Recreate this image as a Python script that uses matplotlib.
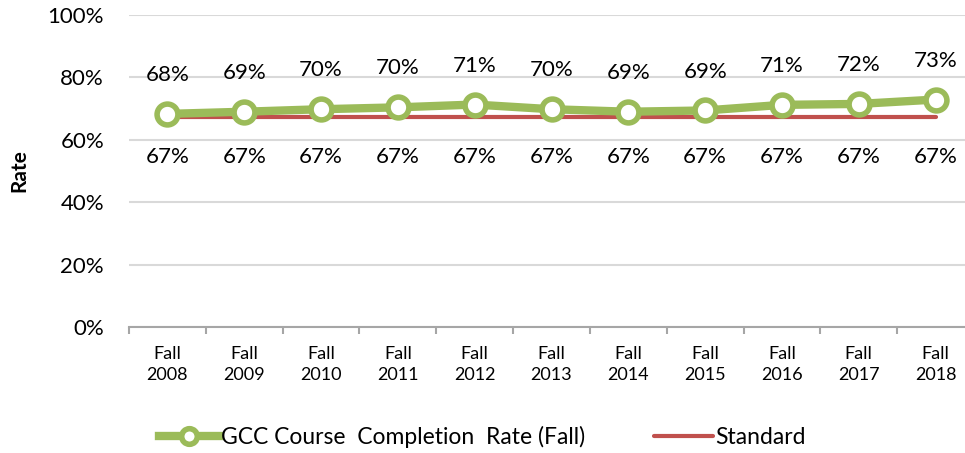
import matplotlib.pyplot as plt
import numpy as np
from matplotlib.ticker import PercentFormatter

years = ["Fall\n2008", "Fall\n2009", "Fall\n2010", "Fall\n2011", "Fall\n2012", "Fall\n2013",
         "Fall\n2014", "Fall\n2015", "Fall\n2016", "Fall\n2017", "Fall\n2018"]
completion = [68.3, 69.0, 69.8, 70.4, 71.3, 69.8, 69.0, 69.4, 71.2, 71.5, 72.9]
completion_labels = ["68%", "69%", "70%", "70%", "71%", "70%", "69%", "69%", "71%", "72%", "73%"]
standard = [67.3] * 11
standard_labels = ["67%"] * 11

green = "#9BBB59"
red = "#C0504D"

plt.rcParams['font.family'] = ['Lato', 'DejaVu Sans']

fig = plt.figure(figsize=(9.65, 4.53), dpi=100)
ax = fig.add_axes([129/965, 1-327/453, 845/965, 312/453])

x = np.arange(len(years))
ax.plot(x, completion, '-o', color=green, lw=6, ms=15, mfc='white', mec=green, mew=4,
        label="GCC Course  Completion  Rate (Fall)", zorder=3)
ax.plot(x, standard, '-', color=red, lw=3, solid_capstyle='round',
        label="Standard", zorder=2)

for xi, v, t in zip(x, completion, completion_labels):
    ax.annotate(t, (xi, v), xytext=(0, 28), textcoords='offset points',
                ha='center', va='center', fontsize=16)
for xi, v, t in zip(x, standard, standard_labels):
    ax.annotate(t, (xi, v), xytext=(0, -29), textcoords='offset points',
                ha='center', va='center', fontsize=16)

ax.set_ylim(0, 100)
ax.set_xlim(-0.5, 10.5)
ax.set_yticks(range(0, 101, 20))
ax.yaxis.set_major_formatter(PercentFormatter(decimals=0))
ax.set_xticks(x)
ax.set_xticklabels(years, fontsize=13, linespacing=1.35)
ax.set_xticks(np.arange(-0.5, 11, 1), minor=True)
ax.tick_params(axis='x', which='major', length=0, pad=14)
ax.tick_params(axis='x', which='minor', length=5, color='#a6a6a6', width=1.5)
ax.tick_params(axis='y', length=0, labelsize=16, pad=18)
ax.grid(axis='y', color='#d9d9d9', lw=1.5)
ax.set_axisbelow(True)
for s in ['top', 'right', 'left']:
    ax.spines[s].set_visible(False)
ax.spines['bottom'].set_color('#a6a6a6')
ax.spines['bottom'].set_linewidth(1.5)
ax.set_ylabel("Rate", fontsize=15, fontweight='bold', labelpad=13)

leg = ax.legend(loc='center', ncol=2, frameon=False, fontsize=16.5, handlelength=2.6,
                handletextpad=0.1, columnspacing=3.0, markerscale=0.75)
leg.set_bbox_to_anchor((0.5, 1-437/453), transform=fig.transFigure)

fig.savefig("out.png", dpi=100)
